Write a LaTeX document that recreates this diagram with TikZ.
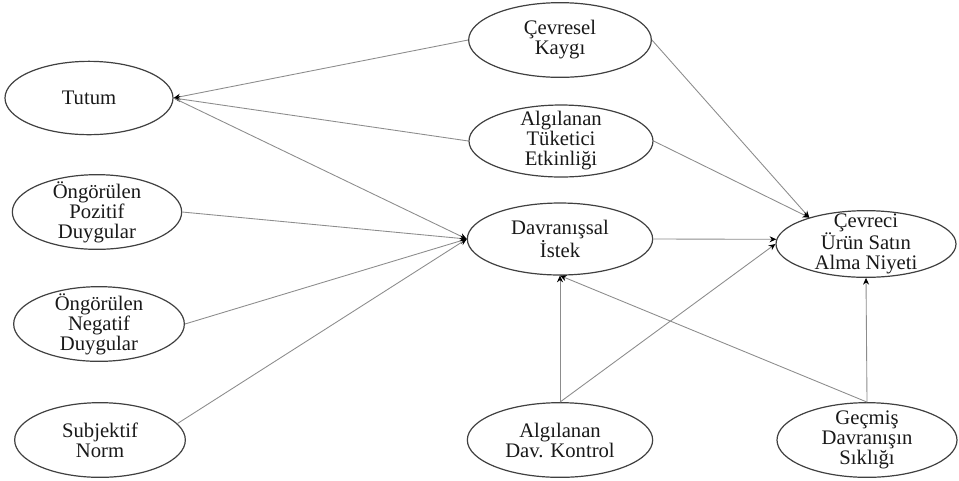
\documentclass[tikz,border=0pt]{standalone}
\usepackage{fontspec}
\setmainfont{Liberation Serif}
\usetikzlibrary{shapes.geometric,arrows.meta}
\begin{document}
\begin{tikzpicture}[x=0.75pt,y=-0.75pt,
  elshape/.style={ellipse,draw=black!75,line width=0.9pt,inner sep=0pt},
  lbl/.style={align=center,inner sep=0pt,font=\fontsize{15.5}{15}\selectfont,text=black!90},
  lnk/.style={draw=black!45,line width=0.65pt,-{Stealth[length=5pt,width=4.5pt,black]}}]
\useasboundingbox[fill=white] (0,0) rectangle (959,480);
% left column
\node[elshape,minimum width=126pt,minimum height=55pt] (tutum) at (89,98) {};
\node[lbl] (tutum-t) at (tutum) {Tutum};
\node[elshape,minimum width=127pt,minimum height=56pt] (poz) at (97,212) {};
\node[lbl] (poz-t) at (poz) {Öngörülen\\Pozitif\\Duygular};
\node[elshape,minimum width=128pt,minimum height=56pt] (neg) at (99,324) {};
\node[lbl] (neg-t) at (neg) {Öngörülen\\Negatif\\Duygular};
\node[elshape,minimum width=128pt,minimum height=56pt] (subj) at (100,440) {};
\node[lbl] (subj-t) at (subj) {Subjektif\\Norm};
% middle column
\node[elshape,minimum width=137pt,minimum height=56pt] (cevresel) at (560,40) {};
\node[lbl] (cevresel-t) at (cevresel) {Çevresel\\Kaygı};
\node[elshape,minimum width=138pt,minimum height=54pt] (ate) at (561,141) {};
\node[lbl] (ate-t) at (ate) {Algılanan\\Tüketici\\Etkinliği};
\node[elshape,minimum width=139pt,minimum height=54pt] (dav) at (560,239) {};
\node[lbl] (dav-t) at (dav) {Davranışsal\\İstek};
\node[elshape,minimum width=139pt,minimum height=56pt] (adk) at (560,440) {};
\node[lbl] (adk-t) at (adk) {Algılanan\\Dav. Kontrol};
% right column
\node[elshape,minimum width=135pt,minimum height=50pt] (cevreci) at (866,244) {};
\node[lbl] (cevreci-t) at (cevreci) {Çevreci\\Ürün Satın\\Alma Niyeti};
\node[elshape,minimum width=135pt,minimum height=56pt] (gec) at (867,440) {};
\node[lbl] (gec-t) at (gec) {Geçmiş\\Davranışın\\Sıklığı};
% connectors
\draw[lnk] (cevresel.west) -- (tutum.east);
\draw[lnk] (ate.west) -- (tutum.east);
\draw[lnk] (tutum.east) -- (dav.west);
\draw[lnk] (poz.east) -- (dav.west);
\draw[lnk] (neg.east) -- (dav.west);
\draw[lnk] (subj.12) -- (dav.west);
\draw[lnk] (cevresel.east) -- (cevreci.155);
\draw[lnk] (ate.east) -- (cevreci.155);
\draw[lnk] (dav.east) -- (cevreci.177);
\draw[lnk] (adk.north) -- (cevreci.west);
\draw[lnk] (adk.north) -- (dav.south);
\draw[lnk] (gec.north) -- (dav.south);
\draw[lnk] (gec.north) -- (cevreci.south);
\end{tikzpicture}
\end{document}
